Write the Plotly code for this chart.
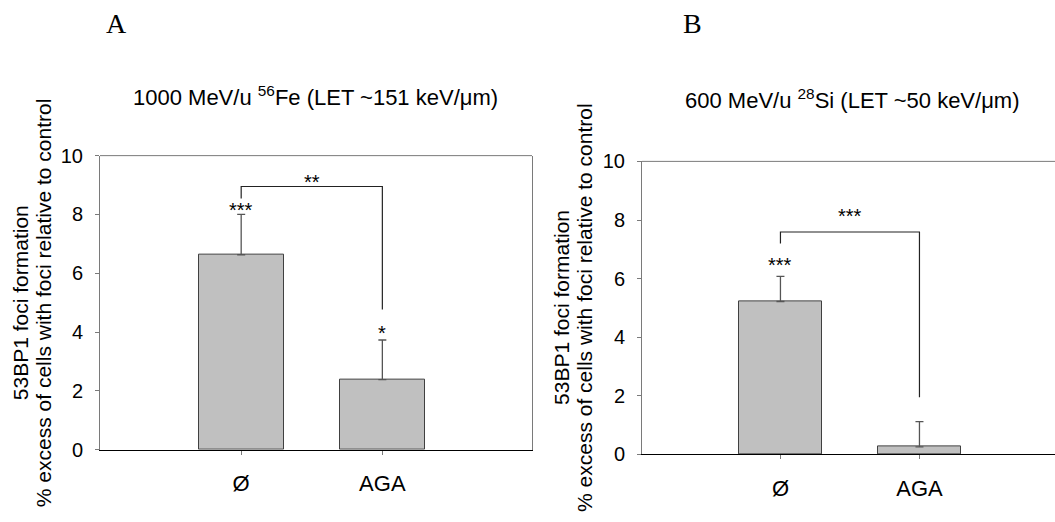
import plotly.graph_objects as go

# ---- data ----
categories = ["Ø", "AGA"]
fe_values = [6.63, 2.38]
fe_errors = [1.37, 1.35]
si_values = [5.22, 0.26]
si_errors = [0.86, 0.86]

# significance marks above bars (label, height where drawn)
fe_bar_marks = ["***", "*"]
fe_bar_mark_y = [8.2, 4.0]
si_bar_marks = ["***", ""]
si_bar_mark_y = [6.5, 0]

# significance brackets: [left drop end, bracket height, right drop end]
fe_bracket = [8.54, 8.95, 4.77]
fe_bracket_label = "**"
fe_bracket_label_y = 9.14
si_bracket = [7.2, 7.59, 1.95]
si_bracket_label = "***"
si_bracket_label_y = 8.16

fe_title = "1000 MeV/u <sup>56</sup>Fe (LET ~151 keV/μm)"
si_title = "600 MeV/u <sup>28</sup>Si (LET ~50 keV/μm)"
y_title_lines = ["53BP1 foci formation", "% excess of cells with foci relative to control"]
panel_labels = ["A", "B"]
y_ticks = [0, 2, 4, 6, 8, 10]

W, H = 1055, 522
FONT = "Liberation Sans, Arial, sans-serif"
SERIF = "Liberation Serif, Times New Roman, serif"
GRAY = "#7a7a7a"
xidx = list(range(len(categories)))

fig = go.Figure()

def add_bars(values, errors, xa, ya):
    fig.add_trace(go.Bar(
        x=xidx, y=values, width=0.6,
        marker=dict(color="#c0c0c0", line=dict(color="#404040", width=1)),
        error_y=dict(type="data", array=errors, arrayminus=[0] * len(errors),
                     symmetric=False, color="#555555", thickness=1.3, width=4),
        xaxis=xa, yaxis=ya, showlegend=False, hoverinfo="skip"))

add_bars(fe_values, fe_errors, "x", "y")
add_bars(si_values, si_errors, "x2", "y2")

def add_bracket(bracket, xa, ya):
    fig.add_trace(go.Scatter(
        x=[0, 0, 1, 1], y=[bracket[0], bracket[1], bracket[1], bracket[2]],
        mode="lines", line=dict(color="#222222", width=1.2),
        xaxis=xa, yaxis=ya, showlegend=False, hoverinfo="skip"))

add_bracket(fe_bracket, "x", "y")
add_bracket(si_bracket, "x2", "y2")

annotations = []
STAR = dict(family=FONT, size=20, color="black")

def mark_annots(marks, marks_y, blabel, blabel_y, xr, yr):
    for i, m in enumerate(marks):
        if m:
            annotations.append(dict(x=i, y=marks_y[i], xref=xr, yref=yr, text=m,
                                    showarrow=False, yanchor="middle", yshift=-1, font=STAR))
    annotations.append(dict(x=0.5, y=blabel_y, xref=xr, yref=yr, text=blabel,
                            showarrow=False, yanchor="middle", yshift=-1, font=STAR))

mark_annots(fe_bar_marks, fe_bar_mark_y, fe_bracket_label, fe_bracket_label_y, "x", "y")
mark_annots(si_bar_marks, si_bar_mark_y, si_bracket_label, si_bracket_label_y, "x2", "y2")

def paper_text(x, y, text, font, angle=0):
    annotations.append(dict(x=x / W, y=1 - y / H, xref="paper", yref="paper", text=text,
                            showarrow=False, xanchor="center", yanchor="middle",
                            textangle=angle, font=font))

TITLE = dict(family=FONT, size=22, color="black")
paper_text(315, 89, fe_title, TITLE)
paper_text(852, 92, si_title, TITLE)
PANEL = dict(family=SERIF, size=28, color="black")
paper_text(116, 13, panel_labels[0], PANEL)
paper_text(692, 13, panel_labels[1], PANEL)
YT = dict(family=FONT, size=21, color="black")
paper_text(20, 305, y_title_lines[0], YT, -90)
paper_text(43, 305, y_title_lines[1], YT, -90)
paper_text(562, 310, y_title_lines[0], YT, -90)
paper_text(585, 310, y_title_lines[1], YT, -90)

# top frame lines (gray) drawn in axis-domain coordinates
shapes = [
    dict(type="line", xref="x domain", yref="y domain", x0=0, x1=1, y0=1, y1=1,
         line=dict(color=GRAY, width=1)),
    dict(type="line", xref="x2 domain", yref="y2 domain", x0=0, x1=1, y0=1, y1=1,
         line=dict(color=GRAY, width=1)),
]

def xaxis(domain, rng, anchor):
    return dict(domain=domain, range=rng, tickvals=xidx, ticktext=categories, anchor=anchor,
                showline=True, linecolor="black", linewidth=1, mirror=False,
                ticks="outside", ticklen=4, tickcolor=GRAY, showgrid=False,
                zeroline=False, tickfont=dict(family=FONT, size=22, color="black"),
                ticklabelstandoff=10, fixedrange=True)

def yaxis(domain, anchor, mirror):
    return dict(domain=domain, range=[0, 10], tickvals=y_ticks, anchor=anchor,
                showline=True, linecolor=GRAY, linewidth=1, mirror=mirror,
                ticks="outside", ticklen=4, tickcolor=GRAY, showgrid=False,
                zeroline=False, tickfont=dict(family=FONT, size=20, color="black"),
                ticklabelstandoff=8, fixedrange=True)

fig.update_layout(
    width=W, height=H, margin=dict(l=0, r=0, t=0, b=0),
    paper_bgcolor="white", plot_bgcolor="white",
    xaxis=xaxis([100 / W, 532 / W], [-1.0, 2.06], "y"),
    yaxis=yaxis([1 - 458 / H, 1 - 151 / H], "x", True),
    xaxis2=xaxis([642 / W, 1.0], [-0.996, 1.975], "y2"),
    yaxis2=yaxis([1 - 463 / H, 1 - 157 / H], "x2", False),
    annotations=annotations, shapes=shapes, bargap=0,
)

fig.write_html("out.html", config={"displayModeBar": False},
               post_script="document.body.style.margin='0';document.body.style.overflow='hidden';")
